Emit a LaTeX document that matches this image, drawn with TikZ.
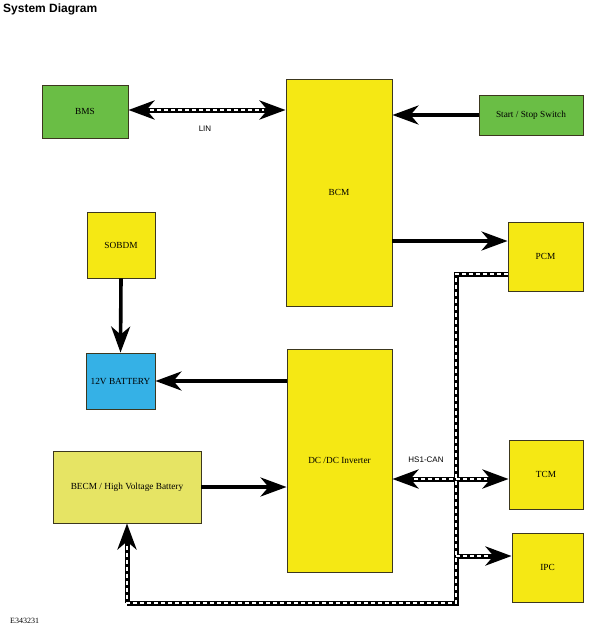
\documentclass[tikz,border=0pt]{standalone}
\usepackage{fontspec}
\setmainfont{Liberation Serif}
\setsansfont{Liberation Sans}
\usetikzlibrary{arrows.meta,calc}
\definecolor{bgreen}{RGB}{106,190,69}
\definecolor{byellow}{RGB}{245,232,20}
\definecolor{bblue}{RGB}{53,177,230}
\definecolor{blyellow}{RGB}{230,228,100}
\definecolor{bedge}{RGB}{60,55,30}
\tikzset{
  blk/.style={draw=bedge, line width=0.9pt, inner sep=0pt, font=\fontsize{9.3}{11}\selectfont},
  sz/.style 2 args={minimum width=#1, minimum height=#2},
  tip/.style={-{Stealth[length=26pt,width=19pt,inset=8pt]}},
  dtip/.style={{Stealth[length=26pt,width=19pt,inset=8pt]}-{Stealth[length=26pt,width=19pt,inset=8pt]}},
  solidarrow/.style={line width=3.6pt, tip},
  busout/.style={line width=5pt, black, line join=miter},
  busin/.style={line width=1.6pt, white, dash pattern=on 4pt off 3pt, line join=miter},
  lbl/.style={font=\sffamily\fontsize{8}{9}\selectfont, inner sep=0pt}
}
\begin{document}
\begin{tikzpicture}[x=1pt,y=-1pt]
\useasboundingbox (0,0) rectangle (592,629);
% title and code
\node[anchor=west, font=\sffamily\bfseries\fontsize{12}{14}\selectfont, inner sep=0pt] (title) at (3,9) {System Diagram};
\node[anchor=west, font=\fontsize{8}{9}\selectfont, inner sep=0pt] (code) at (10,621) {E343231};
% boxes
\node[blk, sz={86pt}{53pt}, fill=bgreen] (bms) at (85,111.5) {BMS};
\node[blk, sz={106pt}{227pt}, fill=byellow] (bcm) at (339,192.5) {BCM};
\node[blk, sz={104pt}{40pt}, fill=bgreen] (ss) at (531,115) {Start / Stop Switch};
\node[blk, sz={68pt}{66pt}, fill=byellow] (sobdm) at (121,245) {SOBDM};
\node[blk, sz={75pt}{69pt}, fill=byellow] (pcm) at (545.5,256.5) {PCM};
\node[blk, sz={69pt}{56pt}, fill=bblue] (bat) at (120.5,381) {12V BATTERY};
\node[blk, sz={105pt}{223pt}, fill=byellow] (dcdc) at (339.5,460.5) {DC /DC Inverter};
\node[blk, sz={148pt}{72pt}, fill=blyellow] (becm) at (127,487) {BECM / High Voltage Battery};
\node[blk, sz={74pt}{69pt}, fill=byellow] (tcm) at (546,474.5) {TCM};
\node[blk, sz={71pt}{69pt}, fill=byellow] (ipc) at (547.5,567.5) {IPC};
% named bus corners
\coordinate (pcmbus) at (456,274);
\coordinate (bot) at (456,603);
\coordinate (botl) at (127,603);
\coordinate (canj) at (456,479);
\coordinate (ipcj) at (456,556);
% solid arrows
\draw[solidarrow] (ss.west) -- (ss.west -| bcm.east);
\draw[solidarrow] (bcm.east |- 0,241) -- (pcm.west |- 0,241);
\draw[solidarrow] (sobdm.south) -- (bat.north);
\draw[solidarrow] (dcdc.west |- bat.east) -- (bat.east);
\draw[solidarrow] (becm.east) -- (becm.east -| dcdc.west);
% LIN bus
\draw[busout, dtip] (bms.east |- 0,110) -- (bcm.west |- 0,110);
\draw[busin, shorten <=22pt, shorten >=22pt] (bms.east |- 0,110) -- (bcm.west |- 0,110);
\node[lbl] (lin) at (205,129) {LIN};
% HS-CAN bus
\draw[busout] (pcm.west |- pcmbus) -- (pcmbus) -- (bot) -- (botl);
\draw[busout, tip] (botl) -- (becm.south);
\draw[busout, dtip] (dcdc.east |- canj) -- (tcm.west |- canj);
\draw[busout, tip] (ipcj) -- (ipc.west |- ipcj);
\draw[busin, shorten <=22pt, shorten >=22pt] (dcdc.east |- canj) -- (tcm.west |- canj);
\draw[busin, shorten >=22pt] (ipcj) -- (ipc.west |- ipcj);
\draw[busin] (pcm.west |- pcmbus) -- (pcmbus) -- (bot) -- (botl) -- ($(becm.south)+(0,22)$);
\node[lbl] (can) at (426,460) {HS1-CAN};
\end{tikzpicture}
\end{document}
